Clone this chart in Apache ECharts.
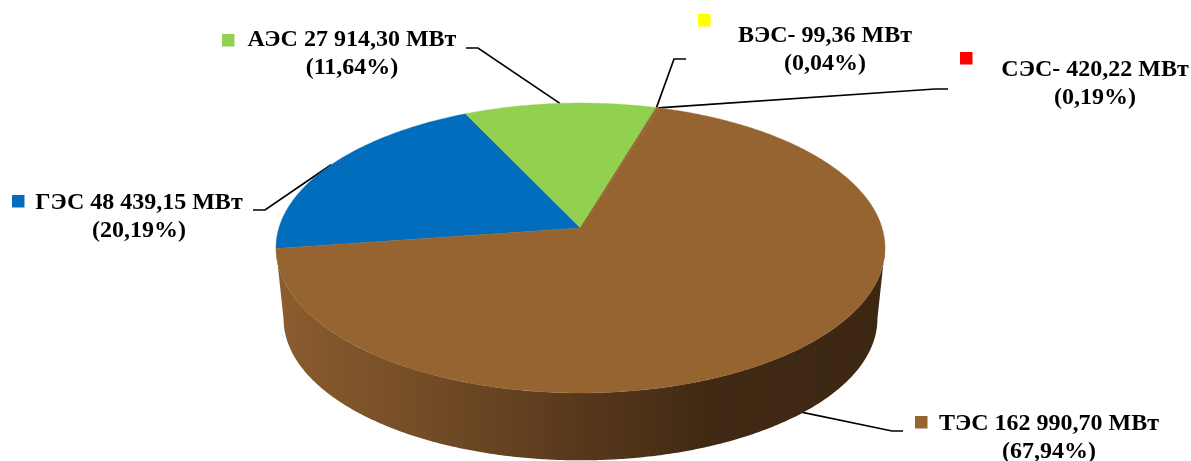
<!DOCTYPE html>
<html>
<head>
<meta charset="utf-8">
<style>html,body{margin:0;padding:0;background:#fff}#chart{width:1191px;height:461px}</style>
<script src="https://cdn.jsdelivr.net/npm/echarts@6/dist/echarts.min.js"></script>
</head>
<body>
<div id="chart"></div>
<script>
// Installed capacity by generation type, clockwise from the hydro slice
const categories = ['ГЭС', 'АЭС', 'ВЭС', 'СЭС', 'ТЭС'];
const capacityMW = [48439.15, 27914.30, 99.36, 420.22, 162990.70];
const capacityLabels = ['ГЭС 48 439,15 МВт', 'АЭС 27 914,30 МВт', 'ВЭС- 99,36 МВт', 'СЭС- 420,22 МВт', 'ТЭС 162 990,70 МВт'];
const shareLabels = ['(20,19%)', '(11,64%)', '(0,04%)', '(0,19%)', '(67,94%)'];
const swatchColors = ['#026dbd', '#92d050', '#ffff00', '#ff0000', '#956430'];
// Wind and solar are too thin to read on the disc, so they take the neighbouring fill
const faceColors = ['#026dbd', '#92d050', '#956430', '#956430', '#956430'];

// Perspective disc: (x, y) on the unit circle, y pointing away from the viewer
const disc = { cx: 580.5, cy: 228, a: 301.6, b: 142.2, k: 0.138, depth: 71.5, taper: 0.025 };
const startDeg = 188.1;   // where the first slice begins, measured anticlockwise from +x

// Label layout, one entry per category
const labelCenterX = [139, 352, 825, 1095, 1049];
const labelLine1Y = [203, 40, 36, 70, 424];
const lineGap = 27.8;
const swatchBox = [[12, 195], [222, 34], [698, 14], [960, 52], [915, 416]];
// Leader lines: label end, elbow, then the slice's mid-angle at this height on the rim (0 top, 1 bottom)
const leaderEnd = [[253, 210], [466, 48], [686, 59], [948, 89], [903, 431]];
const leaderElbow = [[265, 210], [478, 48], [674, 59], [935, 89], [892, 431]];
const leaderRimLevel = [0, 0, 0, 0, 0.9];

const total = capacityMW.reduce((s, v) => s + v, 0);
const sliceStart = [];
capacityMW.reduce((acc, v, i) => { sliceStart[i] = acc; return acc + v; }, 0);
const toDeg = v => startDeg - v / total * 360;

function project(deg, level) {
  const t = deg * Math.PI / 180;
  const x = Math.cos(t), y = Math.sin(t);
  const w = 1 + disc.k * y;
  const s = 1 - disc.taper * level;
  return [disc.cx + s * disc.a * x / w, disc.cy + disc.depth * level - s * disc.b * y / w];
}

function arc(from, to, level) {
  const n = Math.max(2, Math.ceil(Math.abs(to - from) * 2));
  const pts = [];
  for (let i = 0; i <= n; i++) pts.push(project(from + (to - from) * i / n, level));
  return pts;
}

// The rim is visible between the two silhouette tangents of the disc, running clockwise
const tangentDeg = Math.asin(-20 / (disc.b + 20 * disc.k)) * 180 / Math.PI;
const frontStart = tangentDeg;
const frontEnd = -180 - tangentDeg;
const wallGradient = {
  type: 'linear', global: true, x: 283, y: 0, x2: 885, y2: 0,
  colorStops: [
    { offset: 0, color: '#8a5c2e' },
    { offset: 0.28, color: '#6f4925' },
    { offset: 0.52, color: '#55361a' },
    { offset: 0.7, color: '#412a14' },
    { offset: 1, color: '#3c2713' }
  ]
};

function renderSlice(params, api) {
  const i = params.dataIndex;
  const a0 = toDeg(sliceStart[i]);
  const a1 = toDeg(sliceStart[i] + api.value(0));
  const children = [];
  const wFrom = Math.min(a0, frontStart);
  const wTo = Math.max(a1, frontEnd);
  if (wFrom > wTo) {
    const pts = arc(wFrom, wTo, 0).concat(arc(wTo, wFrom, 1));
    children.push({ type: 'polygon', shape: { points: pts }, style: { fill: wallGradient } });
  }
  const face = [[disc.cx, disc.cy]].concat(arc(a0, a1, 0));
  children.push({
    type: 'polygon', z2: 1, shape: { points: face },
    style: { fill: faceColors[i], stroke: faceColors[i], lineWidth: 0.4 }
  });
  return { type: 'group', children };
}

function renderLeader(params, api) {
  const i = params.dataIndex;
  const deg = toDeg(sliceStart[i] + api.value(0) * 0.5);
  const anchor = project(deg, leaderRimLevel[i]);
  return {
    type: 'polyline',
    shape: { points: [leaderEnd[i], leaderElbow[i], anchor] },
    style: { fill: 'none', stroke: '#000', lineWidth: 1.7 }
  };
}

function renderLabel(params) {
  const i = params.dataIndex;
  const font = 'bold 24px "Liberation Serif", serif';
  const textEl = (text, y) => ({
    type: 'text',
    style: { text, x: labelCenterX[i], y, align: 'center', verticalAlign: 'middle', font, fill: '#000' }
  });
  return {
    type: 'group',
    children: [
      { type: 'rect', shape: { x: swatchBox[i][0], y: swatchBox[i][1], width: 12.5, height: 12.5 }, style: { fill: swatchColors[i] } },
      textEl(capacityLabels[i], labelLine1Y[i]),
      textEl(shareLabels[i], labelLine1Y[i] + lineGap)
    ]
  };
}

const rows = capacityMW.map((v, i) => ({ name: categories[i], value: [v] }));
const chart = echarts.init(document.getElementById('chart'), null, { renderer: 'canvas' });
chart.setOption({
  animation: false,
  backgroundColor: '#fff',
  series: [
    { type: 'custom', name: 'leaders', coordinateSystem: 'none', z: 1, silent: true, renderItem: renderLeader, data: rows },
    { type: 'custom', name: 'capacity', coordinateSystem: 'none', z: 2, renderItem: renderSlice, data: rows },
    { type: 'custom', name: 'labels', coordinateSystem: 'none', z: 3, silent: true, renderItem: renderLabel, data: rows }
  ]
});
</script>
</body>
</html>
